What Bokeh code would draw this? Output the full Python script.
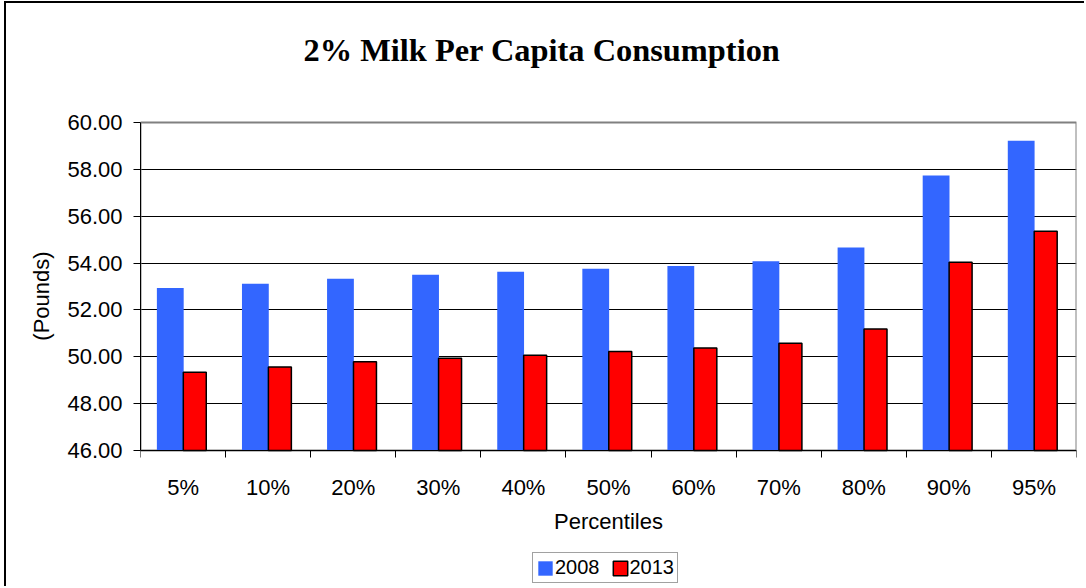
from bokeh.plotting import figure
from bokeh.models import (Range1d, FixedTicker, NumeralTickFormatter, Legend,
                          LegendItem, Label, ColumnDataSource)
from bokeh.transform import dodge
from bokeh.embed import file_html
from bokeh.resources import INLINE

# ---- data ----
categories = ["5%", "10%", "20%", "30%", "40%", "50%", "60%", "70%", "80%", "90%", "95%"]
values_2008 = [52.94, 53.12, 53.33, 53.50, 53.63, 53.76, 53.88, 54.08, 54.66, 57.74, 59.22]
values_2013 = [49.34, 49.56, 49.79, 49.94, 50.07, 50.23, 50.38, 50.58, 51.19, 54.04, 55.36]
y_ticks = [46, 48, 50, 52, 54, 56, 58, 60]
series_names = ["2008", "2013"]
title_text = "2% Milk Per Capita Consumption"
x_label = "Percentiles"
y_label = "(Pounds)"

BLUE = "#3366FF"
RED = "#FF0000"
AX_FONT = "Liberation Sans"
AX_SIZE = "22px"

# ---- layout (pixels on the canvas) ----
CANVAS_W, CANVAS_H = 1080, 585
PLOT_TOP, PLOT_BOTTOM = 119, 447          # where y = 60 and y = 46 fall
px_per_unit = (PLOT_BOTTOM - PLOT_TOP) / (y_ticks[-1] - y_ticks[0])
y_start = y_ticks[0] - (CANVAS_H - PLOT_BOTTOM) / px_per_unit
y_end = y_ticks[-1] + PLOT_TOP / px_per_unit

n = len(categories)
source = ColumnDataSource(dict(x=list(range(n)), v2008=values_2008, v2013=values_2013))

p = figure(width=CANVAS_W, height=CANVAS_H,
           x_range=Range1d(-0.5, n - 0.5), y_range=Range1d(y_start, y_end),
           output_backend="svg", toolbar_location=None,
           min_border_left=134, min_border_right=10,
           min_border_top=0, min_border_bottom=0)
p.styles = {"margin-left": "4px", "margin-top": "1px",
            "border-left": "2px solid #000000", "border-top": "2px solid #000000"}

p.background_fill_color = "white"
p.border_fill_color = "white"
p.outline_line_color = None

# plot-area border (gray top / right edges)
p.quad(left=-0.5, right=n - 0.5, bottom=y_ticks[0], top=y_ticks[-1],
       fill_color=None, line_color="#808080", line_width=2)

r1 = p.vbar(x=dodge("x", -0.15), top="v2008", bottom=y_ticks[0], width=0.315,
            source=source, fill_color=BLUE, line_color=None)
r2 = p.vbar(x=dodge("x", 0.138), top="v2013", bottom=y_ticks[0], width=0.27,
            source=source, fill_color=RED, line_color="black", line_width=1.5)

# grid
p.xgrid.visible = False
p.ygrid.ticker = FixedTicker(ticks=y_ticks[1:-1])
p.ygrid.grid_line_color = "black"
p.ygrid.grid_line_width = 1

# x axis (pinned at y = 46)
xa = p.xaxis[0]
xa.fixed_location = y_ticks[0]
xa.ticker = FixedTicker(ticks=list(range(n)), minor_ticks=[i - 0.5 for i in range(n + 1)])
xa.major_label_overrides = {i: c for i, c in enumerate(categories)}
xa.major_tick_line_color = None
xa.major_tick_out = 0
xa.major_tick_in = 0
xa.minor_tick_line_color = "black"
xa.minor_tick_out = 7
xa.minor_tick_in = 0
xa.axis_line_color = "black"
xa.major_label_text_font = AX_FONT
xa.major_label_text_font_size = AX_SIZE
xa.major_label_text_color = "black"
xa.major_label_standoff = 17
xa.axis_label = x_label
xa.axis_label_text_font = AX_FONT
xa.axis_label_text_font_size = AX_SIZE
xa.axis_label_text_font_style = "normal"
xa.axis_label_text_color = "black"
xa.axis_label_standoff = 6

# y axis
ya = p.yaxis[0]
ya.bounds = (y_ticks[0], y_ticks[-1])
ya.ticker = FixedTicker(ticks=y_ticks)
ya.formatter = NumeralTickFormatter(format="0.00")
ya.major_tick_line_color = "black"
ya.major_tick_out = 7
ya.major_tick_in = 0
ya.minor_tick_line_color = None
ya.axis_line_color = "black"
ya.major_label_text_font = AX_FONT
ya.major_label_text_font_size = AX_SIZE
ya.major_label_text_color = "black"
ya.major_label_standoff = 11
ya.axis_label = y_label
ya.axis_label_text_font = AX_FONT
ya.axis_label_text_font_size = AX_SIZE
ya.axis_label_text_font_style = "normal"
ya.axis_label_text_color = "black"
ya.axis_label_standoff = 10

# title (inside the tall frame, above the plot area)
title = Label(x=401.5, y=CANVAS_H - 46, x_units="screen", y_units="screen",
              text=title_text, text_align="center", text_baseline="alphabetic",
              text_font="Liberation Serif", text_font_size="32.4px",
              text_font_style="bold", text_color="black")
p.add_layout(title)

# legend
legend = Legend(items=[LegendItem(label=series_names[0], renderers=[r1]),
                       LegendItem(label=series_names[1], renderers=[r2])],
                location=(392, 5), orientation="horizontal")
legend.label_text_font = AX_FONT
legend.label_text_font_size = "20px"
legend.label_text_color = "black"
legend.label_height = 20
legend.label_standoff = 1
legend.glyph_width = 18
legend.glyph_height = 18
legend.spacing = 11
legend.padding = 3
legend.margin = 0
legend.border_line_color = "#444444"
legend.border_line_width = 1.5
legend.background_fill_color = "white"
legend.background_fill_alpha = 1
p.add_layout(legend)

open("out.html", "w").write(file_html(p, INLINE))
